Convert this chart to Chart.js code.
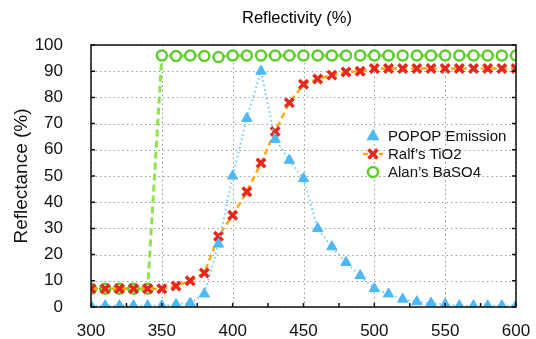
<!DOCTYPE html>
<html>
<head>
<meta charset="utf-8">
<script src="https://cdn.jsdelivr.net/npm/chart.js@4"></script>
<style>
  html, body { margin: 0; padding: 0; background: #fff; }
  #wrap { width: 536px; height: 339px; }
</style>
</head>
<body>
<div id="wrap"><canvas id="reflChart" width="536" height="339"></canvas></div>
<script>
// Wavelength (nm) and values
const wavelengths = [300, 310, 320, 330, 340, 350, 360, 370, 380, 390, 400, 410, 420, 430, 440, 450,
    460, 470, 480, 490, 500, 510, 520, 530, 540, 550, 560, 570, 580, 590, 600];
const popopEmission = [0.5, 0.5, 0.5, 0.5, 0.5, 0.5, 1, 1.5, 5, 24, 50, 72, 90, 64, 56, 49,
    30, 23, 17, 12, 7, 5, 3, 2, 1.5, 1, 0.5, 0.5, 0.5, 0.5, 0.5];
const ralfTiO2 = [7, 7, 7, 7, 7, 7, 8, 10, 13, 27, 35, 44, 55, 67, 78, 85,
    87, 88.5, 89.7, 90, 91, 91, 91, 91, 91, 91, 91, 91, 91, 91, 91];
const alanBaSO4 = [7, 7, 7, 7, 7, 96, 95.8, 96, 95.8, 95.4, 96, 96, 96, 96, 96, 96,
    96, 96, 96, 96, 96, 96, 96, 96, 96, 96, 96, 96, 96, 96, 96];
const xTicks = [300, 350, 400, 450, 500, 550, 600];
const yTicks = [0, 10, 20, 30, 40, 50, 60, 70, 80, 90, 100];

const FONT = '"Liberation Sans", Arial, Helvetica, sans-serif';

function toPoints(values) {
    return wavelengths.map((w, i) => ({ x: w, y: values[i] }));
}

// Dotted grid behind the data
const gridPlugin = {
    id: 'dottedGrid',
    beforeDatasetsDraw(chart) {
        const ctx = chart.ctx;
        const area = chart.chartArea;
        const xs = chart.scales.x;
        const ys = chart.scales.y;
        ctx.save();
        ctx.strokeStyle = '#9a9a9a';
        ctx.lineWidth = 1;
        ctx.setLineDash([1.5, 3]);
        ctx.beginPath();
        yTicks.forEach(v => {
            const y = Math.round(ys.getPixelForValue(v)) + 0.5;
            ctx.moveTo(area.left, y); ctx.lineTo(area.right, y);
        });
        xTicks.forEach(v => {
            const x = Math.round(xs.getPixelForValue(v)) + 0.5;
            ctx.moveTo(x, area.top); ctx.lineTo(x, area.bottom);
        });
        ctx.stroke();
        ctx.restore();
    }
};

// Title, frame, inward ticks and in-plot legend
const extrasPlugin = {
    id: 'extras',
    afterDraw(chart) {
        const ctx = chart.ctx;
        const area = chart.chartArea;
        const xs = chart.scales.x;
        const ys = chart.scales.y;
        ctx.save();

        // frame
        ctx.strokeStyle = '#111';
        ctx.lineWidth = 1.5;
        ctx.strokeRect(area.left, area.top, area.right - area.left, area.bottom - area.top);

        // inward ticks
        ctx.beginPath();
        yTicks.forEach(v => {
            const y = ys.getPixelForValue(v);
            ctx.moveTo(area.left, y); ctx.lineTo(area.left + 4, y);
            ctx.moveTo(area.right, y); ctx.lineTo(area.right - 4, y);
        });
        for (let v = 300; v <= 600; v += 25) {
            const x = xs.getPixelForValue(v);
            ctx.moveTo(x, area.bottom); ctx.lineTo(x, area.bottom - 4);
        }
        ctx.stroke();

        // title
        ctx.fillStyle = '#000';
        ctx.font = '16.5px ' + FONT;
        ctx.textAlign = 'center';
        ctx.textBaseline = 'middle';
        ctx.fillText('Reflectivity (%)', 297, 18);

        // legend
        const lx = 373, textX = 388;
        const rows = [136, 154, 172];
        ctx.font = '15px ' + FONT;
        ctx.textAlign = 'left';
        chart.data.datasets.forEach((ds, i) => {
            const y = rows[i];
            if (i === 1) {
                ctx.strokeStyle = ds.borderColor;
                ctx.lineWidth = 2.5;
                ctx.setLineDash([5, 3]);
                ctx.beginPath();
                ctx.moveTo(lx - 10, y); ctx.lineTo(lx + 10, y);
                ctx.stroke();
                ctx.setLineDash([]);
            }
            drawMarker(ctx, ds, lx, y);
            ctx.fillStyle = '#111';
            ctx.fillText(ds.label, textX, y + 1);
        });
        ctx.restore();
    }
};

function drawMarker(ctx, ds, x, y) {
    const r = ds.pointRadius;
    ctx.save();
    ctx.fillStyle = ds.pointBackgroundColor;
    ctx.strokeStyle = ds.pointBorderColor;
    ctx.lineWidth = ds.pointBorderWidth;
    ctx.beginPath();
    if (ds.pointStyle === 'triangle') {
        ctx.moveTo(x, y - r * 1.2);
        ctx.lineTo(x + r * 1.1, y + r * 0.7);
        ctx.lineTo(x - r * 1.1, y + r * 0.7);
        ctx.closePath();
        ctx.fill();
    } else if (ds.pointStyle === 'crossRot') {
        const d = r * 0.75;
        ctx.moveTo(x - d, y - d); ctx.lineTo(x + d, y + d);
        ctx.moveTo(x + d, y - d); ctx.lineTo(x - d, y + d);
        ctx.stroke();
    } else {
        ctx.arc(x, y, r, 0, Math.PI * 2);
        ctx.fill();
        ctx.stroke();
    }
    ctx.restore();
}

new Chart(document.getElementById('reflChart'), {
    type: 'line',
    data: {
        datasets: [
            {
                label: 'POPOP Emission',
                data: toPoints(popopEmission),
                borderColor: '#6ccbff',
                borderWidth: 2,
                borderDash: [1.5, 3],
                pointStyle: 'triangle',
                pointRadius: 6,
                pointBackgroundColor: '#4cb8f7',
                pointBorderColor: '#4cb8f7',
                pointBorderWidth: 1
            },
            {
                label: "Ralf’s TiO2",
                data: toPoints(ralfTiO2),
                borderColor: '#ffa90a',
                borderWidth: 2.5,
                borderDash: [6, 4],
                pointStyle: 'crossRot',
                pointRadius: 6,
                pointBackgroundColor: '#e8261c',
                pointBorderColor: '#e8261c',
                pointBorderWidth: 3.5
            },
            {
                label: "Alan’s BaSO4",
                data: toPoints(alanBaSO4),
                borderColor: '#8fe44c',
                borderWidth: 3,
                borderDash: [7, 4],
                pointStyle: 'circle',
                pointRadius: 5,
                pointBackgroundColor: '#ffffff',
                pointBorderColor: '#5ccd2c',
                pointBorderWidth: 2.5
            }
        ]
    },
    options: {
        responsive: false,
        animation: false,
        layout: { padding: { left: 0, right: 20, top: 45, bottom: 0 } },
        plugins: {
            legend: { display: false },
            title: { display: false },
            tooltip: { enabled: false }
        },
        elements: { line: { tension: 0 } },
        scales: {
            x: {
                type: 'linear',
                min: 300,
                max: 600,
                afterFit: s => { s.height = 32; s.paddingRight = 0; s.paddingLeft = 0; },
                afterBuildTicks: s => { s.ticks = xTicks.map(v => ({ value: v })); },
                ticks: { font: { size: 17, family: FONT }, color: '#111', padding: 6, maxRotation: 0 },
                grid: { display: false },
                border: { display: false }
            },
            y: {
                min: 0,
                max: 100,
                afterFit: s => { s.width = 91; },
                afterBuildTicks: s => { s.ticks = yTicks.map(v => ({ value: v })); },
                ticks: { font: { size: 17, family: FONT }, color: '#111', padding: 20 },
                grid: { display: false },
                border: { display: false },
                title: {
                    display: true,
                    text: 'Reflectance (%)',
                    font: { size: 19, family: FONT },
                    color: '#111',
                    padding: { top: 10, bottom: 0 }
                }
            }
        }
    },
    plugins: [gridPlugin, extrasPlugin]
});
</script>
</body>
</html>
